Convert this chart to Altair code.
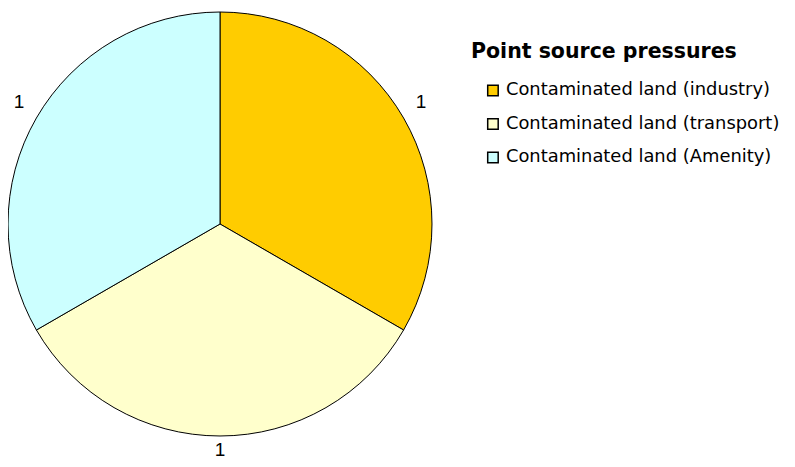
import altair as alt
import pandas as pd

categories = ["Contaminated land (industry)", "Contaminated land (transport)", "Contaminated land (Amenity)"]
values = [1, 1, 1]
colors = ["#FFCC00", "#FFFFCC", "#CCFFFF"]
order = [0, 1, 2]

df = pd.DataFrame({"category": categories, "value": values, "order": order})

base = alt.Chart(df).encode(
    theta=alt.Theta("value:Q", stack=True),
    order=alt.Order("order:Q"),
)

pie = base.mark_arc(outerRadius=212, stroke="black", strokeWidth=1).encode(
    x=alt.value(212), y=alt.value(216),
    color=alt.Color(
        "category:N",
        sort=categories,
        scale=alt.Scale(domain=categories, range=colors),
        legend=alt.Legend(
            title="Point source pressures",
            orient="none", legendX=463, legendY=34,
            titleFont="DejaVu Sans", titleFontSize=20.5, titleFontWeight="bold",
            titleColor="black", titlePadding=19, titleLimit=0,
            labelFont="DejaVu Sans", labelFontSize=17.9, labelColor="black", labelLimit=0,
            symbolType="square", symbolSize=110, symbolStrokeColor="black",
            symbolStrokeWidth=1.5, symbolOpacity=1, symbolOffset=13, labelOffset=4,
            rowPadding=14.5, padding=0, offset=0,
        ),
    ),
)

labels = base.mark_text(radius=232, dy=-6, font="Liberation Sans", fontSize=19, color="black",
                        baseline="middle", align="center").encode(
    x=alt.value(212), y=alt.value(216),
    text=alt.Text("value:Q"),
)

chart = alt.layer(pie, labels).properties(
    width=779, height=451, autosize=alt.AutoSizeParams(type="none"), padding=0,
).configure(background="white").configure_view(stroke=None, strokeWidth=0)

chart.save("out.html", embed_options={"renderer": "svg", "actions": False})
